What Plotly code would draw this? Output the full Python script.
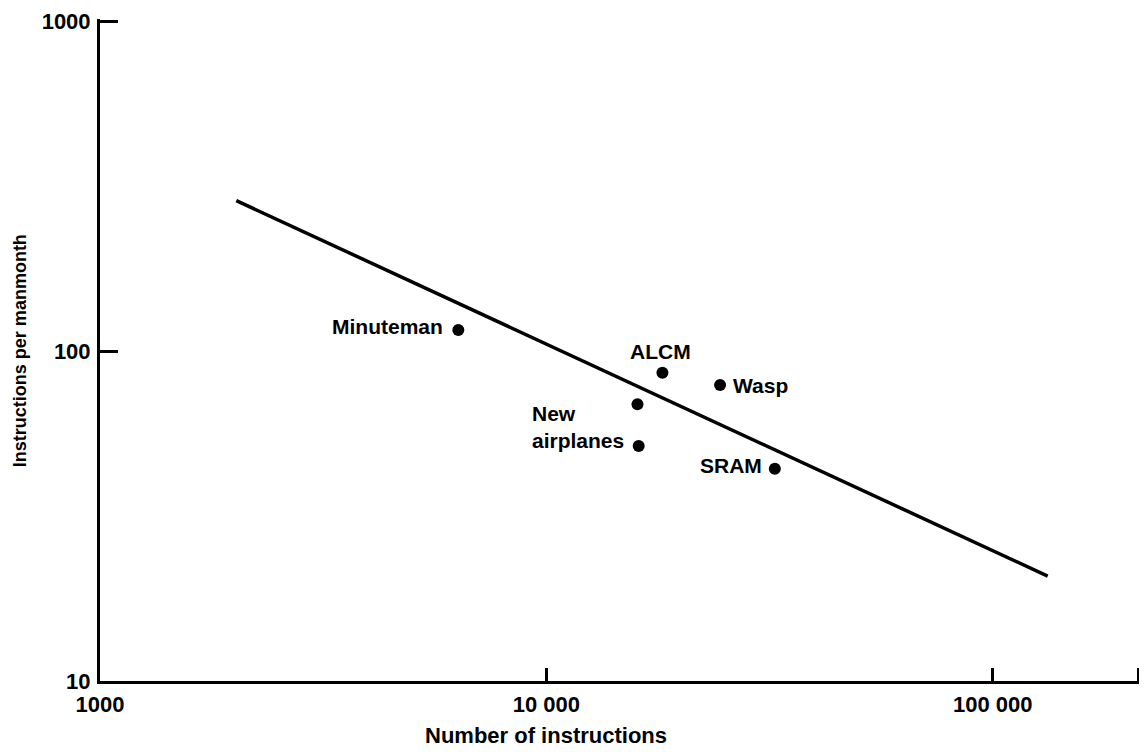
import math
import plotly.graph_objects as go

# Data
project_names = ["Minuteman", "ALCM", "Wasp", "New airplanes (a)", "New airplanes (b)", "SRAM"]
num_instructions = [6350, 18200, 24500, 16000, 16100, 32500]
instr_per_manmonth = [116, 86, 79, 69, 51.6, 44]

trend_x = [2020, 132800]
trend_y = [286, 20.8]

x_tick_vals = [1000, 10000, 100000, 212000]
x_tick_text = ["1000", "10 000", "100 000", ""]
y_tick_vals = [10, 100, 1000]
y_tick_text = ["10", "100", "1000"]

FONT = "Liberation Sans, Arial, Helvetica, sans-serif"
LABEL_SIZE = 21

fig = go.Figure()
fig.add_trace(go.Scatter(x=trend_x, y=trend_y, mode="lines",
                         line=dict(color="black", width=3.5), hoverinfo="skip",
                         showlegend=False))
fig.add_trace(go.Scatter(x=num_instructions, y=instr_per_manmonth, mode="markers",
                         marker=dict(color="black", size=12), text=project_names,
                         showlegend=False))

def lab(text, xv, yv, xanchor, yanchor, xshift, yshift, align="left"):
    fig.add_annotation(x=math.log10(xv), y=math.log10(yv), xref="x", yref="y",
                       text=text, showarrow=False, xanchor=xanchor, yanchor=yanchor,
                       xshift=xshift, yshift=yshift, align=align,
                       font=dict(family=FONT, size=LABEL_SIZE, color="black", weight="bold"))

lab("Minuteman", num_instructions[0], instr_per_manmonth[0], "right", "middle", -13, 3)
lab("ALCM", num_instructions[1], instr_per_manmonth[1], "center", "bottom", -2, 8)
lab("Wasp", num_instructions[2], instr_per_manmonth[2], "left", "middle", 11, -1)
lab("New<br>airplanes", num_instructions[4], instr_per_manmonth[4], "right", "bottom", -13, -8)
lab("SRAM", num_instructions[5], instr_per_manmonth[5], "right", "middle", -11, 3)

# axis titles placed as in the reference
fig.add_annotation(x=4, y=0, xref="x", yref="paper", text="Number of instructions",
                   showarrow=False, xanchor="center", yanchor="top", yshift=-40,
                   font=dict(family=FONT, size=22, color="black", weight="bold"))
fig.add_annotation(x=0, y=2, xref="paper", yref="y", text="Instructions per manmonth",
                   showarrow=False, xanchor="center", yanchor="middle", xshift=-80,
                   textangle=-90,
                   font=dict(family=FONT, size=18, color="black", weight="bold"))

fig.update_layout(
    width=1147, height=752,
    margin=dict(l=92, r=13, t=11, b=79, autoexpand=False),
    paper_bgcolor="white", plot_bgcolor="white",
    font=dict(family=FONT, size=22, color="black", weight="bold"),
    xaxis=dict(type="log", range=[3, math.log10(216000)], automargin=False,
               tickvals=x_tick_vals, ticktext=x_tick_text,
               ticks="inside", ticklen=13, tickwidth=2.5, tickcolor="black",
               showline=True, linecolor="black", linewidth=3,
               showgrid=False, zeroline=False, ticklabelstandoff=2,
               tickfont=dict(family=FONT, size=22, weight="bold")),
    yaxis=dict(type="log", range=[1, 3.007], automargin=False,
               tickvals=y_tick_vals, ticktext=y_tick_text,
               ticks="inside", ticklen=18, tickwidth=2.5, tickcolor="black",
               showline=True, linecolor="black", linewidth=3,
               showgrid=False, zeroline=False, ticklabelstandoff=2,
               tickfont=dict(family=FONT, size=22, weight="bold")),
)

fig.write_html("out.html")
